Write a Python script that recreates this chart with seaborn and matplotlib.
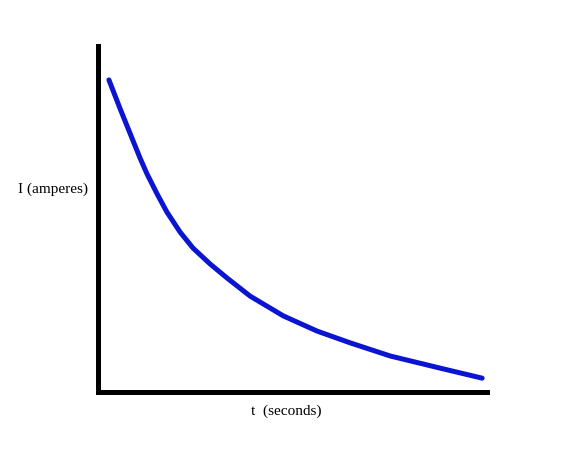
import matplotlib
matplotlib.use("Agg")
import matplotlib.pyplot as plt
import seaborn as sns
import pandas as pd

# values (arbitrary units, axes run 0..10)
t_seconds = [0.28, 0.57, 0.85, 1.08, 1.26, 1.52, 1.77, 2.11, 2.44, 2.88,
             3.32, 3.91, 4.76, 5.63, 6.48, 7.51, 8.79, 9.87]
i_amperes = [9.02, 8.18, 7.40, 6.76, 6.30, 5.72, 5.20, 4.62, 4.16, 3.70,
             3.29, 2.77, 2.20, 1.76, 1.42, 1.04, 0.69, 0.40]
x_label = "t  (seconds)"
y_label = "I (amperes)"

sns.set_style("white")
plt.rcParams['font.family'] = ['Liberation Serif', 'DejaVu Serif']

df = pd.DataFrame({"t": t_seconds, "I": i_amperes})

fig = plt.figure(figsize=(5.87, 4.68), dpi=100)
ax = fig.add_axes([0.167, 0.1624, 0.663, 0.7393])

sns.lineplot(data=df, x="t", y="I", ax=ax, color="#0b14d0", linewidth=3.6,
             solid_capstyle="round", solid_joinstyle="round")

ax.set_xlim(0, 10)
ax.set_ylim(0, 10)
ax.set_xticks([])
ax.set_yticks([])
ax.set_xlabel("")
ax.set_ylabel("")
for s in ["top", "right"]:
    ax.spines[s].set_visible(False)
for s in ["left", "bottom"]:
    ax.spines[s].set_linewidth(3.6)
    ax.spines[s].set_color("black")

fig.text(53 / 587, 1 - 189 / 468, y_label, ha="center", va="center",
         fontsize=11, color="black")
fig.text(286 / 587, 1 - 411 / 468, x_label, ha="center", va="center",
         fontsize=11, color="black")

fig.savefig("out.png", dpi=100, facecolor="white")
